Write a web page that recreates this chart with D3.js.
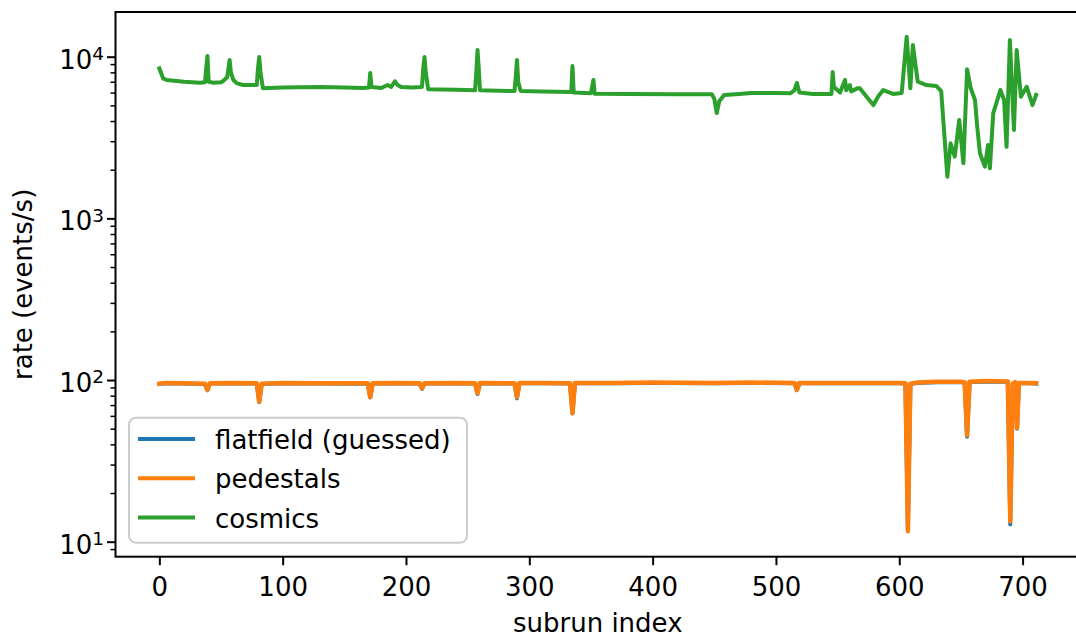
<!DOCTYPE html>
<html>
<head>
<meta charset="utf-8">
<script src="https://cdn.jsdelivr.net/npm/d3@7"></script>
<style>
  body { margin: 0; background: #fff; }
  text { font-family: "DejaVu Sans", sans-serif; }
</style>
</head>
<body>
<script>
// ---- data ----------------------------------------------------------------

// cosmics: subrun index / rate
const cosmicsIdx = [0, 3, 6, 20, 33, 37, 38, 39, 40, 44, 50, 52, 55, 57, 58, 60, 63, 68, 79, 80, 81, 82, 84,
  100, 114, 130, 150, 165, 170, 171, 172, 180, 185, 188, 191, 193, 196, 205, 213, 214, 215, 216, 218,
  240, 256, 257, 258, 259, 260, 275, 288, 289, 290, 291, 293, 310, 334, 335, 336, 350, 352, 353,
  380, 420, 448, 450, 452, 454, 458, 470, 480, 500, 512, 515, 517, 519, 530, 545, 546, 547, 550,
  552, 556, 557, 560, 561, 566, 568, 573.5, 579, 583, 587, 595, 602, 606, 609, 611, 615, 622, 630,
  634, 639, 641.6, 645, 648.6, 652, 655, 658, 661.4, 663.2, 665.4, 669.4, 672, 673.5, 676.2, 677.5,
  682, 685, 687, 689.7, 693, 695.2, 698.6, 703.3, 708, 711];
const cosmicsVal = [8475, 7350, 7180, 7000, 6905, 6950, 8500, 10100, 7000, 6905, 6950, 7100, 7460, 9540, 8000, 7180, 6840, 6680, 6680, 8500, 9960, 8000, 6380,
  6450, 6470, 6500, 6450, 6400, 6450, 7930, 6500, 6400, 6680, 6500, 7050, 6700, 6500, 6450, 6500, 8500, 9960, 8000, 6300,
  6250, 6200, 8000, 11000, 8500, 6200, 6150, 6130, 7500, 9540, 7000, 6130, 6100, 6050, 8760, 6000, 5950, 7180, 5900,
  5880, 5850, 5850, 5500, 4480, 5300, 5800, 5880, 5960, 5960, 5950, 6200, 6880, 6000, 5880, 5880, 8040, 6500, 6200,
  6000, 7180, 6200, 6680, 6100, 6370, 6370, 5660, 5020, 5690, 6220, 5880, 5970, 13290, 6370, 11810, 7000, 6680, 6590,
  6130, 1810, 2910, 2410, 4060, 2190, 8360, 6370, 5400, 3690, 2530, 2090, 2840, 2040, 4470, 4800,
  6220, 5400, 2770, 12690, 3520, 11000, 5660, 6520, 5020, 5800];

// pedestals and flatfield share the same sampled indices
const pedIdx = [0, 5, 20, 37, 39, 41, 60, 79, 81, 83, 100, 130, 169, 171, 173, 190, 211, 213, 215, 240,
  256, 258, 260, 288, 290, 292, 310, 333, 335, 337, 370, 400, 450, 480, 515, 517, 519, 560, 600,
  605, 607, 609, 615, 630, 650, 653, 655, 657, 670, 688, 690, 692, 694, 695.5, 697, 705, 711];
const pedestalsVal = [95, 96, 95.5, 95, 87, 95.5, 96, 95.5, 73.5, 95, 96, 95.5, 95.5, 78.5, 95.5, 96, 95.5, 88.8, 95.5, 96,
  95.5, 83, 96, 95.5, 78.5, 96, 96, 95.5, 62.5, 96, 96, 96.5, 96, 96.5, 96, 87, 96, 96, 96,
  95.5, 11.6, 95, 96.5, 97.5, 97.5, 97, 45.6, 97.5, 98.5, 98, 13.4, 95, 97, 50.5, 96, 96, 95.5];
const flatfieldVal = [94.5, 95.5, 95, 94.5, 86.5, 95, 95.5, 95, 73, 94.5, 95.5, 95, 95, 78, 95, 95.5, 95, 88, 95, 95.5,
  95, 82, 95.5, 95, 77, 95.5, 95.5, 95, 62, 95.5, 95.5, 96, 95.5, 96, 95.5, 86.5, 95.5, 95.5, 95.5,
  95, 11.8, 94.5, 96, 97, 97, 96.5, 44.6, 97, 98, 97.5, 12.8, 94.5, 96.5, 50, 95.5, 95.5, 95];

const seriesNames = ["flatfield (guessed)", "pedestals", "cosmics"];
const seriesColors = ["#1f77b4", "#ff7f0e", "#2ca02c"];

const xTicks = [0, 100, 200, 300, 400, 500, 600, 700];
const yMajor = [10, 100, 1000, 10000];

//-------------------------------------------------------------------------------

const width = 1076, height = 637;
const plotLeft = 115.5, plotRight = 1080, plotTop = 12, plotBottom = 556.7;

const svg = d3.select("body").append("svg")
    .attr("width", width)
    .attr("height", height);

const x = d3.scaleLinear().domain([-35.55, 746.55]).range([plotLeft, plotRight]);
const y = d3.scaleLog().domain([8.075, 18900]).range([plotBottom, plotTop]);

// minor ticks on the log axis: 2..9 of every decade that fits
const yMinor = [];
[1, 10, 100, 1000, 10000].forEach(d => {
    for (let k = 2; k <= 9; k++) {
        const v = d * k;
        if (v > y.domain()[0] && v < y.domain()[1]) yMinor.push(v);
    }
});

svg.append("defs").append("clipPath").attr("id", "plotclip")
    .append("rect")
    .attr("x", plotLeft).attr("y", plotTop)
    .attr("width", plotRight - plotLeft).attr("height", plotBottom - plotTop);

const line = d3.line()
    .x(d => x(d[0]))
    .y(d => y(d[1]));

const series = [
    d3.zip(pedIdx, flatfieldVal),
    d3.zip(pedIdx, pedestalsVal),
    d3.zip(cosmicsIdx, cosmicsVal)
];

const gLines = svg.append("g").attr("clip-path", "url(#plotclip)");
series.forEach((s, i) => {
    gLines.append("path")
        .datum(s)
        .attr("d", line)
        .attr("fill", "none")
        .attr("stroke", seriesColors[i])
        .attr("stroke-width", i === 1 ? 4.5 : 4)
        .attr("stroke-linejoin", "round")
        .attr("stroke-linecap", "square");
});

// x axis
const gx = svg.append("g")
    .attr("transform", `translate(0,${plotBottom})`)
    .call(d3.axisBottom(x).tickValues(xTicks).tickSize(8.5).tickSizeOuter(0));
gx.select(".domain").remove();
gx.selectAll(".tick line").attr("stroke-width", 2);
gx.selectAll(".tick text")
    .attr("y", 39.3).attr("dy", null)
    .attr("font-size", 26).attr("font-family", "DejaVu Sans")
    .attr("fill", "#000");

// y axis, minor ticks
const gyMinor = svg.append("g")
    .attr("transform", `translate(${plotLeft},0)`)
    .call(d3.axisLeft(y).tickValues(yMinor).tickSize(5).tickSizeOuter(0).tickFormat(""));
gyMinor.select(".domain").remove();
gyMinor.selectAll(".tick line").attr("stroke-width", 1.5);

// y axis, major ticks with 10^n labels
const gy = svg.append("g")
    .attr("transform", `translate(${plotLeft},0)`)
    .call(d3.axisLeft(y).tickValues(yMajor).tickSize(8.5).tickSizeOuter(0).tickFormat(""));
gy.select(".domain").remove();
gy.selectAll(".tick line").attr("stroke-width", 2);
gy.selectAll(".tick text")
    .attr("x", -11.5).attr("y", 11.3).attr("dy", null)
    .attr("text-anchor", "end")
    .attr("font-size", 26).attr("font-family", "DejaVu Sans")
    .attr("fill", "#000")
    .each(function(d) {
        const t = d3.select(this);
        t.text("10");
        t.append("tspan")
            .attr("dy", -8.5)
            .attr("font-size", 18.5)
            .text(Math.round(Math.log10(d)));
    });

// frame (spines on top of lines, like matplotlib)
svg.append("rect")
    .attr("x", plotLeft).attr("y", plotTop)
    .attr("width", plotRight - plotLeft).attr("height", plotBottom - plotTop)
    .attr("fill", "none")
    .attr("stroke", "#000")
    .attr("stroke-width", 2);

// axis labels
svg.append("text")
    .attr("x", (plotLeft + plotRight) / 2).attr("y", 631.7)
    .attr("text-anchor", "middle")
    .attr("font-size", 26)
    .text("subrun index");

svg.append("text")
    .attr("transform", `translate(32,${(plotTop + plotBottom) / 2}) rotate(-90)`)
    .attr("text-anchor", "middle")
    .attr("font-size", 26)
    .text("rate (events/s)");

// legend
const legend = svg.append("g");
legend.append("rect")
    .attr("x", 129).attr("y", 417.7)
    .attr("width", 338).attr("height", 125)
    .attr("rx", 7).attr("ry", 7)
    .attr("fill", "#fff").attr("fill-opacity", 0.8)
    .attr("stroke", "#cccccc").attr("stroke-width", 2);

seriesNames.forEach((name, i) => {
    const cy = 439 + i * 39.3;
    legend.append("line")
        .attr("x1", 138).attr("x2", 195)
        .attr("y1", cy).attr("y2", cy)
        .attr("stroke", seriesColors[i])
        .attr("stroke-width", 4);
    legend.append("text")
        .attr("x", 215).attr("y", cy + 10)
        .attr("font-size", 26)
        .text(name);
});
</script>
</body>
</html>
